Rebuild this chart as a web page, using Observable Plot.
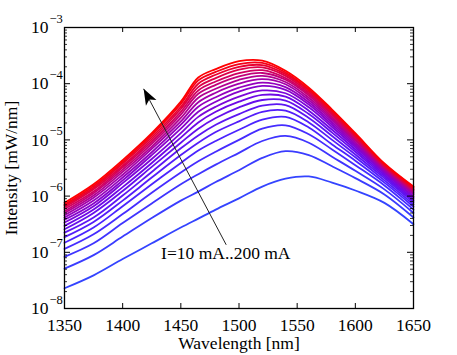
<!DOCTYPE html>
<html>
<head>
<meta charset="utf-8">
<script src="https://cdn.jsdelivr.net/npm/d3@7"></script>
<script src="https://cdn.jsdelivr.net/npm/@observablehq/plot@0.6"></script>
<style>
  html, body { margin: 0; padding: 0; background: #fff; }
  #chart { width: 457px; height: 355px; }
  #chart svg text { font-family: 'Liberation Serif', 'Times New Roman', Times, serif; }
</style>
</head>
<body>
<div id="chart"></div>
<script>
// Wavelength sample points (nm)
const wavelengths = [1350, 1375, 1400, 1425, 1450, 1465, 1480, 1500, 1520, 1540, 1560, 1580, 1600, 1625, 1650];
// Drive currents (mA)
const currents = [10, 20, 30, 40, 50, 60, 70, 80, 90, 100, 110, 120, 130, 140, 150, 160, 170, 180, 190, 200];

// log10 of spectral intensity (mW/nm), one array per current
const logI_10mA  = [-7.64, -7.41, -7.12, -6.84, -6.56, -6.40, -6.24, -6.04, -5.83, -5.69, -5.65, -5.76, -5.90, -6.12, -6.50];
const logI_20mA  = [-7.29, -7.05, -6.72, -6.39, -6.08, -5.92, -5.75, -5.54, -5.32, -5.20, -5.27, -5.47, -5.68, -5.97, -6.38];
const logI_30mA  = [-7.08, -6.84, -6.48, -6.13, -5.79, -5.61, -5.44, -5.23, -5.02, -4.93, -5.05, -5.30, -5.55, -5.88, -6.30];
const logI_40mA  = [-6.94, -6.68, -6.32, -5.94, -5.58, -5.38, -5.21, -5.00, -4.80, -4.74, -4.90, -5.17, -5.45, -5.81, -6.24];
const logI_50mA  = [-6.83, -6.56, -6.18, -5.79, -5.41, -5.19, -5.02, -4.82, -4.64, -4.59, -4.78, -5.08, -5.37, -5.76, -6.19];
const logI_60mA  = [-6.73, -6.46, -6.08, -5.67, -5.27, -5.05, -4.86, -4.67, -4.50, -4.48, -4.69, -5.00, -5.31, -5.72, -6.15];
const logI_70mA  = [-6.65, -6.38, -5.99, -5.57, -5.15, -4.92, -4.73, -4.54, -4.39, -4.38, -4.61, -4.93, -5.26, -5.68, -6.11];
const logI_80mA  = [-6.59, -6.30, -5.91, -5.48, -5.05, -4.80, -4.61, -4.42, -4.29, -4.30, -4.54, -4.87, -5.21, -5.65, -6.08];
const logI_90mA  = [-6.53, -6.24, -5.84, -5.41, -4.96, -4.69, -4.50, -4.32, -4.20, -4.23, -4.48, -4.82, -5.17, -5.62, -6.05];
const logI_100mA = [-6.47, -6.18, -5.77, -5.34, -4.88, -4.59, -4.41, -4.23, -4.12, -4.17, -4.42, -4.77, -5.13, -5.59, -6.02];
const logI_110mA = [-6.42, -6.13, -5.72, -5.27, -4.80, -4.50, -4.32, -4.14, -4.04, -4.11, -4.37, -4.73, -5.10, -5.57, -6.00];
const logI_120mA = [-6.38, -6.08, -5.67, -5.22, -4.73, -4.41, -4.24, -4.07, -3.98, -4.06, -4.33, -4.69, -5.07, -5.55, -5.97];
const logI_130mA = [-6.34, -6.03, -5.62, -5.16, -4.67, -4.33, -4.16, -4.00, -3.92, -4.01, -4.29, -4.65, -5.04, -5.53, -5.95];
const logI_140mA = [-6.30, -5.99, -5.57, -5.12, -4.61, -4.25, -4.09, -3.93, -3.86, -3.97, -4.25, -4.62, -5.01, -5.51, -5.93];
const logI_150mA = [-6.27, -5.95, -5.53, -5.07, -4.55, -4.18, -4.02, -3.87, -3.81, -3.93, -4.21, -4.59, -4.99, -5.49, -5.91];
const logI_160mA = [-6.23, -5.92, -5.49, -5.03, -4.50, -4.12, -3.96, -3.81, -3.76, -3.90, -4.18, -4.56, -4.96, -5.48, -5.89];
const logI_170mA = [-6.20, -5.88, -5.46, -4.99, -4.45, -4.06, -3.90, -3.75, -3.71, -3.86, -4.15, -4.53, -4.94, -5.46, -5.88];
const logI_180mA = [-6.17, -5.85, -5.42, -4.95, -4.41, -4.00, -3.84, -3.70, -3.67, -3.83, -4.12, -4.51, -4.92, -5.45, -5.86];
const logI_190mA = [-6.15, -5.82, -5.39, -4.91, -4.36, -3.94, -3.79, -3.65, -3.63, -3.80, -4.10, -4.48, -4.90, -5.43, -5.84];
const logI_200mA = [-6.12, -5.79, -5.36, -4.88, -4.32, -3.89, -3.74, -3.60, -3.59, -3.77, -4.07, -4.46, -4.88, -5.42, -5.83];

const spectra = [logI_10mA, logI_20mA, logI_30mA, logI_40mA, logI_50mA, logI_60mA, logI_70mA,
  logI_80mA, logI_90mA, logI_100mA, logI_110mA, logI_120mA, logI_130mA, logI_140mA, logI_150mA,
  logI_160mA, logI_170mA, logI_180mA, logI_190mA, logI_200mA];

// Axis ticks
const xTicks = [1350, 1400, 1450, 1500, 1550, 1600, 1650];
const yTickExponents = [-8, -7, -6, -5, -4, -3];

// Annotation
const annotationLabel = [{wavelength: 1433, intensity: 9.5e-8, text: "I=10 mA..200 mA"}];
const annotationArrow = [{fromWavelength: 1489, fromIntensity: 1.36e-7, toWavelength: 1418, toIntensity: 8.1e-5}];

// Build table
const rows = [];
spectra.forEach((arr, i) => arr.forEach((v, j) => rows.push({current: currents[i], wavelength: wavelengths[j], intensity: 10 ** v})));

const colorOf = d3.scaleLinear()
  .domain([10, 50, 90, 125, 160, 200])
  .range(["#3444ff", "#4a24ff", "#6e08e6", "#9a00b6", "#d00060", "#ff0000"])
  .interpolate(d3.interpolateRgb);

const yTicks = yTickExponents.map(e => 10 ** e);
const yMinor = [];
yTickExponents.slice(0, -1).forEach(e => { for (let m = 2; m <= 9; m++) yMinor.push(m * 10 ** e); });

const W = 457, H = 355, mL = 64, mR = 44, mT = 27, mB = 47;
const innerW = W - mL - mR, innerH = H - mT - mB;
const font = "'Liberation Serif', 'Times New Roman', Times, serif";

const arrowHead = {
  draw(context) {
    context.moveTo(0, 0);
    context.lineTo(-6, 16);
    context.lineTo(0, 12);
    context.lineTo(6, 16);
    context.closePath();
  }
};

const chart = Plot.plot({
  width: W, height: H,
  marginLeft: mL, marginRight: mR, marginTop: mT, marginBottom: mB,
  style: {fontFamily: font, fontSize: "17.5px", color: "#000", background: "#fff", overflow: "visible"},
  x: {domain: [1350, 1650]},
  y: {type: "log", domain: [1e-8, 1e-3]},
  color: {type: "identity"},
  marks: [
    Plot.line(rows, {x: "wavelength", y: "intensity", z: "current", stroke: d => colorOf(d.current), strokeWidth: 1.8, curve: "catmull-rom"}),
    // ticks (inward)
    Plot.tickX(xTicks.slice(1, -1), {x: d => d, insetTop: innerH - 5, stroke: "#000"}),
    Plot.tickX(xTicks.slice(1, -1), {x: d => d, insetBottom: innerH - 5, stroke: "#000"}),
    Plot.tickY(yTicks, {y: d => d, insetRight: innerW - 6, stroke: "#000"}),
    Plot.tickY(yTicks, {y: d => d, insetLeft: innerW - 6, stroke: "#000"}),
    Plot.tickY(yMinor, {y: d => d, insetRight: innerW - 3, stroke: "#000", strokeWidth: 0.8}),
    Plot.tickY(yMinor, {y: d => d, insetLeft: innerW - 3, stroke: "#000", strokeWidth: 0.8}),
    Plot.frame({stroke: "#000", strokeWidth: 1.3}),
    // axes labels
    Plot.axisX(xTicks, {tickSize: 0, tickPadding: 10, tickFormat: d => String(d), label: null, fontSize: 17.5}),
    Plot.axisY(yTicks, {tickSize: 0, tickPadding: 16, tickFormat: () => "10", label: null, fontSize: 17.5}),
    Plot.text(yTickExponents, {y: e => 10 ** e, frameAnchor: "left", text: e => "\u2212" + Math.abs(e), textAnchor: "start", lineAnchor: "middle", dx: -15, dy: -9, fontSize: 12.5}),
    Plot.text(["Intensity [mW/nm]"], {frameAnchor: "left", text: d => d, rotate: -90, textAnchor: "middle", lineAnchor: "middle", dx: -53, fontSize: 17.5}),
    Plot.text(["Wavelength [nm]"], {frameAnchor: "bottom", text: d => d, textAnchor: "middle", lineAnchor: "middle", dy: 35, fontSize: 17.5}),
    // annotation
    Plot.link(annotationArrow, {x1: "fromWavelength", y1: "fromIntensity", x2: "toWavelength", y2: "toIntensity", stroke: "#222", strokeWidth: 1}),
    Plot.dot(annotationArrow, {x: "toWavelength", y: "toIntensity", symbol: arrowHead, fill: "#000", stroke: "none", rotate: -28.4}),
    Plot.text(annotationLabel, {x: "wavelength", y: "intensity", text: "text", textAnchor: "start", lineAnchor: "middle", fontSize: 17.5})
  ]
});
document.getElementById("chart").appendChild(chart);
</script>
</body>
</html>
